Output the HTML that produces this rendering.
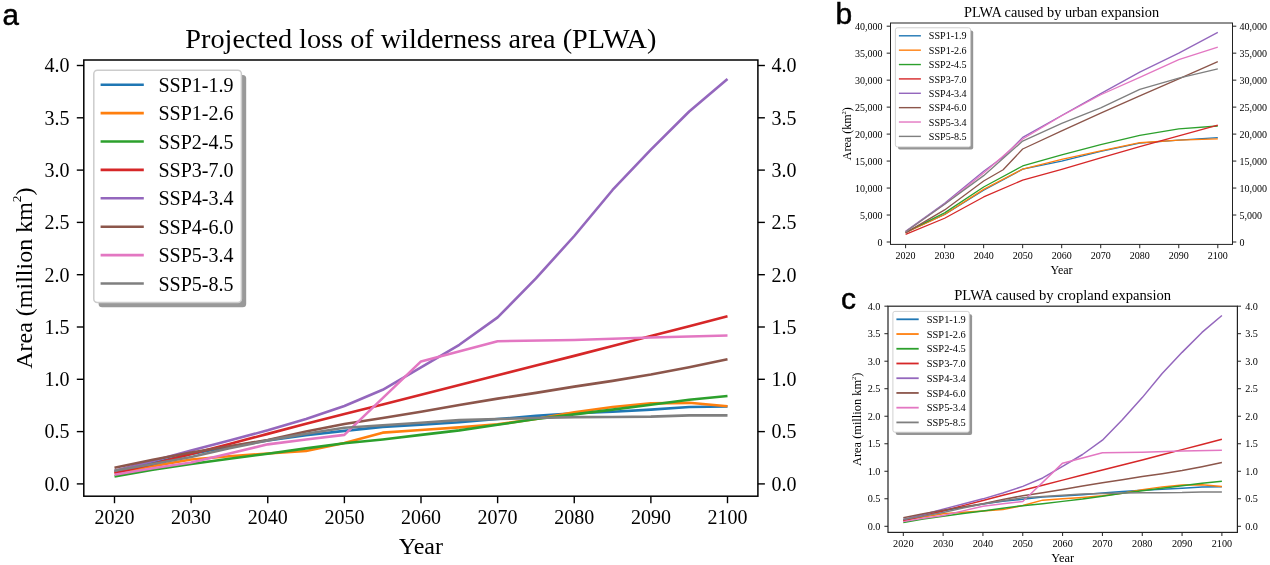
<!DOCTYPE html>
<html><head><meta charset="utf-8"><style>
html,body{margin:0;padding:0;background:#fff;}
svg{display:block;will-change:transform;}
text{font-family:'Liberation Serif',serif;fill:#000;}
</style></head><body>
<svg width="1270" height="565" viewBox="0 0 1270 565">
<rect width="1270" height="565" fill="#fff"/>
<polyline points="114.50,471.87 152.81,462.98 191.12,454.09 229.44,446.77 267.75,440.49 306.06,435.26 344.38,430.87 382.69,426.89 421.00,424.80 459.31,422.19 497.62,419.05 535.94,415.91 574.25,413.29 612.56,411.73 650.88,409.63 689.19,407.02 727.50,406.50" fill="none" stroke="#1f77b4" stroke-width="2.6" stroke-linejoin="round" stroke-linecap="butt"/>
<polyline points="114.50,472.92 152.81,466.12 191.12,459.53 229.44,456.18 267.75,453.57 306.06,450.95 344.38,442.90 382.69,432.65 421.00,430.03 459.31,427.42 497.62,424.28 535.94,419.05 574.25,412.25 612.56,407.02 650.88,403.36 689.19,402.83 727.50,406.29" fill="none" stroke="#ff7f0e" stroke-width="2.6" stroke-linejoin="round" stroke-linecap="butt"/>
<polyline points="114.50,476.58 152.81,469.78 191.12,464.03 229.44,458.80 267.75,453.67 306.06,448.34 344.38,443.21 382.69,439.44 421.00,434.84 459.31,430.34 497.62,424.80 535.94,419.05 574.25,414.34 612.56,409.63 650.88,404.82 689.19,399.80 727.50,395.93" fill="none" stroke="#2ca02c" stroke-width="2.6" stroke-linejoin="round" stroke-linecap="butt"/>
<polyline points="114.50,473.08 152.81,464.06 191.12,454.00 229.44,443.94 267.75,433.87 306.06,423.81 344.38,414.10 382.69,404.40 421.00,394.69 459.31,384.99 497.62,375.28 535.94,365.57 574.25,355.87 612.56,345.98 650.88,336.10 689.19,326.22 727.50,316.33" fill="none" stroke="#d62728" stroke-width="2.6" stroke-linejoin="round" stroke-linecap="butt"/>
<polyline points="114.50,470.82 152.81,460.89 191.12,450.53 229.44,440.49 267.75,430.34 306.06,419.05 344.38,405.97 382.69,389.76 421.00,367.38 459.31,344.78 497.62,317.38 535.94,278.36 574.25,236.00 612.56,189.97 650.88,149.60 689.19,111.52 727.50,79.10" fill="none" stroke="#9467bd" stroke-width="2.6" stroke-linejoin="round" stroke-linecap="butt"/>
<polyline points="114.50,467.69 152.81,459.84 191.12,452.52 229.44,446.24 267.75,439.97 306.06,431.60 344.38,423.96 382.69,418.00 421.00,411.73 459.31,404.93 497.62,398.65 535.94,392.90 574.25,386.62 612.56,380.87 650.88,374.59 689.19,367.27 727.50,359.22" fill="none" stroke="#8c564b" stroke-width="2.6" stroke-linejoin="round" stroke-linecap="butt"/>
<polyline points="114.50,474.80 152.81,468.21 191.12,462.46 229.44,453.57 267.75,444.36 306.06,439.44 344.38,434.84 421.00,361.41 497.62,341.23 574.25,339.97 650.88,337.46 727.50,335.47" fill="none" stroke="#e377c2" stroke-width="2.6" stroke-linejoin="round" stroke-linecap="butt"/>
<polyline points="114.50,470.82 152.81,464.03 191.12,457.02 229.44,448.34 267.75,440.39 306.06,433.69 344.38,427.73 382.69,425.32 421.00,422.71 459.31,420.09 497.62,419.05 535.94,418.00 574.25,417.17 612.56,416.96 650.88,416.64 689.19,415.39 727.50,415.39" fill="none" stroke="#7f7f7f" stroke-width="2.6" stroke-linejoin="round" stroke-linecap="butt"/>
<rect x="83.8" y="60" width="674.1" height="436.2" fill="none" stroke="#000" stroke-width="1.5"/>
<line x1="76.8" y1="483.90" x2="83.8" y2="483.90" stroke="#000" stroke-width="1.4"/>
<line x1="757.9" y1="483.90" x2="764.9" y2="483.90" stroke="#000" stroke-width="1.4"/>
<text x="69.60" y="490.70" font-size="20" text-anchor="end" >0.0</text>
<text x="771.50" y="490.70" font-size="20" text-anchor="start" >0.0</text>
<line x1="76.8" y1="431.60" x2="83.8" y2="431.60" stroke="#000" stroke-width="1.4"/>
<line x1="757.9" y1="431.60" x2="764.9" y2="431.60" stroke="#000" stroke-width="1.4"/>
<text x="69.60" y="438.40" font-size="20" text-anchor="end" >0.5</text>
<text x="771.50" y="438.40" font-size="20" text-anchor="start" >0.5</text>
<line x1="76.8" y1="379.30" x2="83.8" y2="379.30" stroke="#000" stroke-width="1.4"/>
<line x1="757.9" y1="379.30" x2="764.9" y2="379.30" stroke="#000" stroke-width="1.4"/>
<text x="69.60" y="386.10" font-size="20" text-anchor="end" >1.0</text>
<text x="771.50" y="386.10" font-size="20" text-anchor="start" >1.0</text>
<line x1="76.8" y1="327.00" x2="83.8" y2="327.00" stroke="#000" stroke-width="1.4"/>
<line x1="757.9" y1="327.00" x2="764.9" y2="327.00" stroke="#000" stroke-width="1.4"/>
<text x="69.60" y="333.80" font-size="20" text-anchor="end" >1.5</text>
<text x="771.50" y="333.80" font-size="20" text-anchor="start" >1.5</text>
<line x1="76.8" y1="274.70" x2="83.8" y2="274.70" stroke="#000" stroke-width="1.4"/>
<line x1="757.9" y1="274.70" x2="764.9" y2="274.70" stroke="#000" stroke-width="1.4"/>
<text x="69.60" y="281.50" font-size="20" text-anchor="end" >2.0</text>
<text x="771.50" y="281.50" font-size="20" text-anchor="start" >2.0</text>
<line x1="76.8" y1="222.40" x2="83.8" y2="222.40" stroke="#000" stroke-width="1.4"/>
<line x1="757.9" y1="222.40" x2="764.9" y2="222.40" stroke="#000" stroke-width="1.4"/>
<text x="69.60" y="229.20" font-size="20" text-anchor="end" >2.5</text>
<text x="771.50" y="229.20" font-size="20" text-anchor="start" >2.5</text>
<line x1="76.8" y1="170.10" x2="83.8" y2="170.10" stroke="#000" stroke-width="1.4"/>
<line x1="757.9" y1="170.10" x2="764.9" y2="170.10" stroke="#000" stroke-width="1.4"/>
<text x="69.60" y="176.90" font-size="20" text-anchor="end" >3.0</text>
<text x="771.50" y="176.90" font-size="20" text-anchor="start" >3.0</text>
<line x1="76.8" y1="117.80" x2="83.8" y2="117.80" stroke="#000" stroke-width="1.4"/>
<line x1="757.9" y1="117.80" x2="764.9" y2="117.80" stroke="#000" stroke-width="1.4"/>
<text x="69.60" y="124.60" font-size="20" text-anchor="end" >3.5</text>
<text x="771.50" y="124.60" font-size="20" text-anchor="start" >3.5</text>
<line x1="76.8" y1="65.50" x2="83.8" y2="65.50" stroke="#000" stroke-width="1.4"/>
<line x1="757.9" y1="65.50" x2="764.9" y2="65.50" stroke="#000" stroke-width="1.4"/>
<text x="69.60" y="72.30" font-size="20" text-anchor="end" >4.0</text>
<text x="771.50" y="72.30" font-size="20" text-anchor="start" >4.0</text>
<line x1="114.50" y1="496.2" x2="114.50" y2="503.2" stroke="#000" stroke-width="1.4"/>
<text x="114.50" y="523.80" font-size="20" text-anchor="middle" >2020</text>
<line x1="191.12" y1="496.2" x2="191.12" y2="503.2" stroke="#000" stroke-width="1.4"/>
<text x="191.12" y="523.80" font-size="20" text-anchor="middle" >2030</text>
<line x1="267.75" y1="496.2" x2="267.75" y2="503.2" stroke="#000" stroke-width="1.4"/>
<text x="267.75" y="523.80" font-size="20" text-anchor="middle" >2040</text>
<line x1="344.38" y1="496.2" x2="344.38" y2="503.2" stroke="#000" stroke-width="1.4"/>
<text x="344.38" y="523.80" font-size="20" text-anchor="middle" >2050</text>
<line x1="421.00" y1="496.2" x2="421.00" y2="503.2" stroke="#000" stroke-width="1.4"/>
<text x="421.00" y="523.80" font-size="20" text-anchor="middle" >2060</text>
<line x1="497.62" y1="496.2" x2="497.62" y2="503.2" stroke="#000" stroke-width="1.4"/>
<text x="497.62" y="523.80" font-size="20" text-anchor="middle" >2070</text>
<line x1="574.25" y1="496.2" x2="574.25" y2="503.2" stroke="#000" stroke-width="1.4"/>
<text x="574.25" y="523.80" font-size="20" text-anchor="middle" >2080</text>
<line x1="650.88" y1="496.2" x2="650.88" y2="503.2" stroke="#000" stroke-width="1.4"/>
<text x="650.88" y="523.80" font-size="20" text-anchor="middle" >2090</text>
<line x1="727.50" y1="496.2" x2="727.50" y2="503.2" stroke="#000" stroke-width="1.4"/>
<text x="727.50" y="523.80" font-size="20" text-anchor="middle" >2100</text>
<text x="420.85" y="47.80" font-size="28.25" text-anchor="middle" >Projected loss of wilderness area (PLWA)</text>
<text x="420.85" y="553.60" font-size="24" text-anchor="middle" >Year</text>
<text transform="translate(31.5,278.1) rotate(-90)" font-size="24" text-anchor="middle">Area (million km<tspan baseline-shift="11.5" font-size="13.5">2</tspan>)</text>
<rect x="98.60" y="75.00" width="147.6" height="232.2" rx="3.5" fill="#999999"/>
<rect x="93.80" y="70.20" width="147.6" height="232.2" rx="3.5" fill="#fff" stroke="#cccccc" stroke-width="1.5"/>
<line x1="100.6" y1="84.70" x2="143.8" y2="84.70" stroke="#1f77b4" stroke-width="2.6"/>
<text x="158.50" y="91.70" font-size="20" text-anchor="start" >SSP1-1.9</text>
<line x1="100.6" y1="113.10" x2="143.8" y2="113.10" stroke="#ff7f0e" stroke-width="2.6"/>
<text x="158.50" y="120.10" font-size="20" text-anchor="start" >SSP1-2.6</text>
<line x1="100.6" y1="141.50" x2="143.8" y2="141.50" stroke="#2ca02c" stroke-width="2.6"/>
<text x="158.50" y="148.50" font-size="20" text-anchor="start" >SSP2-4.5</text>
<line x1="100.6" y1="169.90" x2="143.8" y2="169.90" stroke="#d62728" stroke-width="2.6"/>
<text x="158.50" y="176.90" font-size="20" text-anchor="start" >SSP3-7.0</text>
<line x1="100.6" y1="198.30" x2="143.8" y2="198.30" stroke="#9467bd" stroke-width="2.6"/>
<text x="158.50" y="205.30" font-size="20" text-anchor="start" >SSP4-3.4</text>
<line x1="100.6" y1="226.70" x2="143.8" y2="226.70" stroke="#8c564b" stroke-width="2.6"/>
<text x="158.50" y="233.70" font-size="20" text-anchor="start" >SSP4-6.0</text>
<line x1="100.6" y1="255.10" x2="143.8" y2="255.10" stroke="#e377c2" stroke-width="2.6"/>
<text x="158.50" y="262.10" font-size="20" text-anchor="start" >SSP5-3.4</text>
<line x1="100.6" y1="283.50" x2="143.8" y2="283.50" stroke="#7f7f7f" stroke-width="2.6"/>
<text x="158.50" y="290.50" font-size="20" text-anchor="start" >SSP5-8.5</text>
<text x="2.4" y="24.6" font-size="29.5" stroke="#000" stroke-width="0.5" style="font-family:'Liberation Sans',sans-serif">a</text>
<polyline points="905.60,232.29 944.62,214.49 983.65,190.21 1022.67,169.17 1061.70,161.02 1100.72,151.31 1139.75,143.22 1178.78,140.03 1217.80,137.61" fill="none" stroke="#1f77b4" stroke-width="1.3" stroke-linejoin="round" stroke-linecap="butt"/>
<polyline points="905.60,232.56 944.62,214.49 983.65,189.40 1022.67,169.17 1061.70,159.40 1100.72,150.82 1139.75,142.73 1178.78,140.03 1217.80,138.96" fill="none" stroke="#ff7f0e" stroke-width="1.3" stroke-linejoin="round" stroke-linecap="butt"/>
<polyline points="905.60,232.29 944.62,212.87 983.65,186.97 1022.67,165.98 1061.70,154.92 1100.72,144.62 1139.75,135.45 1178.78,128.92 1217.80,126.01" fill="none" stroke="#2ca02c" stroke-width="1.3" stroke-linejoin="round" stroke-linecap="butt"/>
<polyline points="905.60,234.45 944.62,218.26 983.65,196.95 1022.67,180.12 1061.70,169.33 1100.72,157.89 1139.75,146.51 1178.78,135.99 1217.80,125.20" fill="none" stroke="#d62728" stroke-width="1.3" stroke-linejoin="round" stroke-linecap="butt"/>
<polyline points="905.60,231.21 944.62,203.21 983.65,171.33 1003.16,156.97 1022.67,137.39 1061.70,115.49 1100.72,93.64 1139.75,72.06 1178.78,53.17 1217.80,32.40" fill="none" stroke="#9467bd" stroke-width="1.3" stroke-linejoin="round" stroke-linecap="butt"/>
<polyline points="905.60,232.83 944.62,209.90 983.65,181.04 1003.16,169.71 1022.67,148.99 1061.70,130.86 1100.72,113.06 1139.75,95.80 1178.78,78.91 1217.80,61.59" fill="none" stroke="#8c564b" stroke-width="1.3" stroke-linejoin="round" stroke-linecap="butt"/>
<polyline points="905.60,231.75 944.62,204.24 983.65,172.94 1022.67,139.01 1061.70,115.76 1100.72,94.72 1139.75,77.29 1178.78,59.60 1217.80,47.19" fill="none" stroke="#e377c2" stroke-width="1.3" stroke-linejoin="round" stroke-linecap="butt"/>
<polyline points="905.60,231.75 944.62,204.24 983.65,175.64 1022.67,141.11 1061.70,123.31 1100.72,107.83 1139.75,89.32 1178.78,78.21 1217.80,68.98" fill="none" stroke="#7f7f7f" stroke-width="1.3" stroke-linejoin="round" stroke-linecap="butt"/>
<rect x="890.5" y="23" width="342.0" height="221.4" fill="none" stroke="#222" stroke-width="1.0"/>
<line x1="886.7" y1="242.00" x2="890.5" y2="242.00" stroke="#222" stroke-width="1.0"/>
<line x1="1232.5" y1="242.00" x2="1236.3" y2="242.00" stroke="#222" stroke-width="1.0"/>
<text x="882.40" y="245.50" font-size="10" text-anchor="end" >0</text>
<text x="1239.50" y="245.50" font-size="10" text-anchor="start" >0</text>
<line x1="886.7" y1="215.03" x2="890.5" y2="215.03" stroke="#222" stroke-width="1.0"/>
<line x1="1232.5" y1="215.03" x2="1236.3" y2="215.03" stroke="#222" stroke-width="1.0"/>
<text x="882.40" y="218.53" font-size="10" text-anchor="end" >5,000</text>
<text x="1239.50" y="218.53" font-size="10" text-anchor="start" >5,000</text>
<line x1="886.7" y1="188.05" x2="890.5" y2="188.05" stroke="#222" stroke-width="1.0"/>
<line x1="1232.5" y1="188.05" x2="1236.3" y2="188.05" stroke="#222" stroke-width="1.0"/>
<text x="882.40" y="191.55" font-size="10" text-anchor="end" >10,000</text>
<text x="1239.50" y="191.55" font-size="10" text-anchor="start" >10,000</text>
<line x1="886.7" y1="161.07" x2="890.5" y2="161.07" stroke="#222" stroke-width="1.0"/>
<line x1="1232.5" y1="161.07" x2="1236.3" y2="161.07" stroke="#222" stroke-width="1.0"/>
<text x="882.40" y="164.57" font-size="10" text-anchor="end" >15,000</text>
<text x="1239.50" y="164.57" font-size="10" text-anchor="start" >15,000</text>
<line x1="886.7" y1="134.10" x2="890.5" y2="134.10" stroke="#222" stroke-width="1.0"/>
<line x1="1232.5" y1="134.10" x2="1236.3" y2="134.10" stroke="#222" stroke-width="1.0"/>
<text x="882.40" y="137.60" font-size="10" text-anchor="end" >20,000</text>
<text x="1239.50" y="137.60" font-size="10" text-anchor="start" >20,000</text>
<line x1="886.7" y1="107.12" x2="890.5" y2="107.12" stroke="#222" stroke-width="1.0"/>
<line x1="1232.5" y1="107.12" x2="1236.3" y2="107.12" stroke="#222" stroke-width="1.0"/>
<text x="882.40" y="110.62" font-size="10" text-anchor="end" >25,000</text>
<text x="1239.50" y="110.62" font-size="10" text-anchor="start" >25,000</text>
<line x1="886.7" y1="80.15" x2="890.5" y2="80.15" stroke="#222" stroke-width="1.0"/>
<line x1="1232.5" y1="80.15" x2="1236.3" y2="80.15" stroke="#222" stroke-width="1.0"/>
<text x="882.40" y="83.65" font-size="10" text-anchor="end" >30,000</text>
<text x="1239.50" y="83.65" font-size="10" text-anchor="start" >30,000</text>
<line x1="886.7" y1="53.17" x2="890.5" y2="53.17" stroke="#222" stroke-width="1.0"/>
<line x1="1232.5" y1="53.17" x2="1236.3" y2="53.17" stroke="#222" stroke-width="1.0"/>
<text x="882.40" y="56.67" font-size="10" text-anchor="end" >35,000</text>
<text x="1239.50" y="56.67" font-size="10" text-anchor="start" >35,000</text>
<line x1="886.7" y1="26.20" x2="890.5" y2="26.20" stroke="#222" stroke-width="1.0"/>
<line x1="1232.5" y1="26.20" x2="1236.3" y2="26.20" stroke="#222" stroke-width="1.0"/>
<text x="882.40" y="29.70" font-size="10" text-anchor="end" >40,000</text>
<text x="1239.50" y="29.70" font-size="10" text-anchor="start" >40,000</text>
<line x1="905.60" y1="244.4" x2="905.60" y2="248.20000000000002" stroke="#222" stroke-width="1.0"/>
<text x="905.60" y="258.80" font-size="10" text-anchor="middle" >2020</text>
<line x1="944.62" y1="244.4" x2="944.62" y2="248.20000000000002" stroke="#222" stroke-width="1.0"/>
<text x="944.62" y="258.80" font-size="10" text-anchor="middle" >2030</text>
<line x1="983.65" y1="244.4" x2="983.65" y2="248.20000000000002" stroke="#222" stroke-width="1.0"/>
<text x="983.65" y="258.80" font-size="10" text-anchor="middle" >2040</text>
<line x1="1022.67" y1="244.4" x2="1022.67" y2="248.20000000000002" stroke="#222" stroke-width="1.0"/>
<text x="1022.67" y="258.80" font-size="10" text-anchor="middle" >2050</text>
<line x1="1061.70" y1="244.4" x2="1061.70" y2="248.20000000000002" stroke="#222" stroke-width="1.0"/>
<text x="1061.70" y="258.80" font-size="10" text-anchor="middle" >2060</text>
<line x1="1100.72" y1="244.4" x2="1100.72" y2="248.20000000000002" stroke="#222" stroke-width="1.0"/>
<text x="1100.72" y="258.80" font-size="10" text-anchor="middle" >2070</text>
<line x1="1139.75" y1="244.4" x2="1139.75" y2="248.20000000000002" stroke="#222" stroke-width="1.0"/>
<text x="1139.75" y="258.80" font-size="10" text-anchor="middle" >2080</text>
<line x1="1178.78" y1="244.4" x2="1178.78" y2="248.20000000000002" stroke="#222" stroke-width="1.0"/>
<text x="1178.78" y="258.80" font-size="10" text-anchor="middle" >2090</text>
<line x1="1217.80" y1="244.4" x2="1217.80" y2="248.20000000000002" stroke="#222" stroke-width="1.0"/>
<text x="1217.80" y="258.80" font-size="10" text-anchor="middle" >2100</text>
<text x="1061.50" y="17.00" font-size="14.3" text-anchor="middle" >PLWA caused by urban expansion</text>
<text x="1061.50" y="273.80" font-size="12" text-anchor="middle" >Year</text>
<text transform="translate(851.2,133.7) rotate(-90)" font-size="12" text-anchor="middle">Area (km<tspan baseline-shift="5" font-size="6.5">2</tspan>)</text>
<rect x="898.00" y="30.40" width="75.2" height="119.1" rx="2" fill="#959595"/>
<rect x="895.40" y="27.80" width="75.2" height="119.1" rx="2" fill="#fff" stroke="#cccccc" stroke-width="0.9"/>
<line x1="898.9" y1="35.80" x2="920.9" y2="35.80" stroke="#1f77b4" stroke-width="1.4"/>
<text x="928.80" y="39.40" font-size="10.1" text-anchor="start" >SSP1-1.9</text>
<line x1="898.9" y1="50.17" x2="920.9" y2="50.17" stroke="#ff7f0e" stroke-width="1.4"/>
<text x="928.80" y="53.77" font-size="10.1" text-anchor="start" >SSP1-2.6</text>
<line x1="898.9" y1="64.54" x2="920.9" y2="64.54" stroke="#2ca02c" stroke-width="1.4"/>
<text x="928.80" y="68.14" font-size="10.1" text-anchor="start" >SSP2-4.5</text>
<line x1="898.9" y1="78.91" x2="920.9" y2="78.91" stroke="#d62728" stroke-width="1.4"/>
<text x="928.80" y="82.51" font-size="10.1" text-anchor="start" >SSP3-7.0</text>
<line x1="898.9" y1="93.28" x2="920.9" y2="93.28" stroke="#9467bd" stroke-width="1.4"/>
<text x="928.80" y="96.88" font-size="10.1" text-anchor="start" >SSP4-3.4</text>
<line x1="898.9" y1="107.65" x2="920.9" y2="107.65" stroke="#8c564b" stroke-width="1.4"/>
<text x="928.80" y="111.25" font-size="10.1" text-anchor="start" >SSP4-6.0</text>
<line x1="898.9" y1="122.02" x2="920.9" y2="122.02" stroke="#e377c2" stroke-width="1.4"/>
<text x="928.80" y="125.62" font-size="10.1" text-anchor="start" >SSP5-3.4</text>
<line x1="898.9" y1="136.39" x2="920.9" y2="136.39" stroke="#7f7f7f" stroke-width="1.4"/>
<text x="928.80" y="139.99" font-size="10.1" text-anchor="start" >SSP5-8.5</text>
<text x="835.5" y="23.7" font-size="30" stroke="#000" stroke-width="0.5" style="font-family:'Liberation Sans',sans-serif">b</text>
<polyline points="903.30,520.07 923.21,515.48 943.12,510.90 963.04,507.17 982.95,503.99 1002.86,501.35 1022.77,499.14 1042.69,497.09 1062.60,496.03 1082.51,494.71 1102.42,493.11 1122.34,491.50 1142.25,490.16 1162.16,489.35 1182.07,488.27 1201.99,486.91 1221.90,486.64" fill="none" stroke="#1f77b4" stroke-width="1.5" stroke-linejoin="round" stroke-linecap="butt"/>
<polyline points="903.30,520.62 923.21,517.13 943.12,513.76 963.04,512.13 982.95,510.88 1002.86,509.61 1022.77,505.47 1042.69,500.13 1062.60,498.80 1082.51,497.47 1102.42,495.86 1122.34,493.15 1142.25,489.62 1162.16,486.88 1182.07,484.97 1201.99,484.70 1221.90,486.52" fill="none" stroke="#ff7f0e" stroke-width="1.5" stroke-linejoin="round" stroke-linecap="butt"/>
<polyline points="903.30,522.55 923.21,519.07 943.12,516.14 963.04,513.52 982.95,510.96 1002.86,508.26 1022.77,505.67 1042.69,503.74 1062.60,501.38 1082.51,499.07 1102.42,496.20 1122.34,493.22 1142.25,490.79 1162.16,488.35 1182.07,485.85 1201.99,483.22 1221.90,481.20" fill="none" stroke="#2ca02c" stroke-width="1.5" stroke-linejoin="round" stroke-linecap="butt"/>
<polyline points="903.30,520.69 923.21,516.02 943.12,510.81 963.04,505.63 982.95,500.44 1002.86,495.23 1022.77,490.21 1042.69,485.16 1062.60,480.11 1082.51,475.06 1102.42,470.01 1122.34,464.97 1142.25,459.92 1162.16,454.77 1182.07,449.62 1201.99,444.48 1221.90,439.33" fill="none" stroke="#d62728" stroke-width="1.5" stroke-linejoin="round" stroke-linecap="butt"/>
<polyline points="903.30,519.53 923.21,514.45 943.12,509.14 963.04,504.02 982.95,498.85 1002.86,493.05 1022.77,486.37 1042.69,477.95 1062.60,466.29 1082.51,454.51 1102.42,440.21 1122.34,419.79 1142.25,397.61 1162.16,373.50 1182.07,352.35 1201.99,332.43 1221.90,315.47" fill="none" stroke="#9467bd" stroke-width="1.5" stroke-linejoin="round" stroke-linecap="butt"/>
<polyline points="903.30,517.86 923.21,513.85 943.12,510.12 963.04,506.96 982.95,503.81 1002.86,499.52 1022.77,495.72 1042.69,492.67 1062.60,489.46 1082.51,485.98 1102.42,482.77 1122.34,479.83 1142.25,476.61 1162.16,473.67 1182.07,470.46 1201.99,466.69 1221.90,462.54" fill="none" stroke="#8c564b" stroke-width="1.5" stroke-linejoin="round" stroke-linecap="butt"/>
<polyline points="903.30,521.62 923.21,518.29 943.12,515.40 963.04,510.89 982.95,506.20 1002.86,503.79 1022.77,501.54 1062.60,463.15 1102.42,452.74 1142.25,452.26 1182.07,451.12 1221.90,450.20" fill="none" stroke="#e377c2" stroke-width="1.5" stroke-linejoin="round" stroke-linecap="butt"/>
<polyline points="903.30,519.53 923.21,516.09 943.12,512.54 963.04,508.12 982.95,504.08 1002.86,500.74 1022.77,497.78 1042.69,496.60 1062.60,495.32 1082.51,494.02 1102.42,493.55 1122.34,493.09 1142.25,492.75 1162.16,492.69 1182.07,492.59 1201.99,491.97 1221.90,492.02" fill="none" stroke="#7f7f7f" stroke-width="1.5" stroke-linejoin="round" stroke-linecap="butt"/>
<rect x="888" y="306.2" width="349.4000000000001" height="226.2" fill="none" stroke="#222" stroke-width="1.2"/>
<line x1="884.4" y1="526.30" x2="888" y2="526.30" stroke="#222" stroke-width="1.0"/>
<line x1="1237.4" y1="526.30" x2="1241.0" y2="526.30" stroke="#222" stroke-width="1.0"/>
<text x="880.40" y="529.80" font-size="10.2" text-anchor="end" >0.0</text>
<text x="1245.20" y="529.80" font-size="10.2" text-anchor="start" >0.0</text>
<line x1="884.4" y1="498.78" x2="888" y2="498.78" stroke="#222" stroke-width="1.0"/>
<line x1="1237.4" y1="498.78" x2="1241.0" y2="498.78" stroke="#222" stroke-width="1.0"/>
<text x="880.40" y="502.28" font-size="10.2" text-anchor="end" >0.5</text>
<text x="1245.20" y="502.28" font-size="10.2" text-anchor="start" >0.5</text>
<line x1="884.4" y1="471.27" x2="888" y2="471.27" stroke="#222" stroke-width="1.0"/>
<line x1="1237.4" y1="471.27" x2="1241.0" y2="471.27" stroke="#222" stroke-width="1.0"/>
<text x="880.40" y="474.77" font-size="10.2" text-anchor="end" >1.0</text>
<text x="1245.20" y="474.77" font-size="10.2" text-anchor="start" >1.0</text>
<line x1="884.4" y1="443.75" x2="888" y2="443.75" stroke="#222" stroke-width="1.0"/>
<line x1="1237.4" y1="443.75" x2="1241.0" y2="443.75" stroke="#222" stroke-width="1.0"/>
<text x="880.40" y="447.25" font-size="10.2" text-anchor="end" >1.5</text>
<text x="1245.20" y="447.25" font-size="10.2" text-anchor="start" >1.5</text>
<line x1="884.4" y1="416.24" x2="888" y2="416.24" stroke="#222" stroke-width="1.0"/>
<line x1="1237.4" y1="416.24" x2="1241.0" y2="416.24" stroke="#222" stroke-width="1.0"/>
<text x="880.40" y="419.74" font-size="10.2" text-anchor="end" >2.0</text>
<text x="1245.20" y="419.74" font-size="10.2" text-anchor="start" >2.0</text>
<line x1="884.4" y1="388.72" x2="888" y2="388.72" stroke="#222" stroke-width="1.0"/>
<line x1="1237.4" y1="388.72" x2="1241.0" y2="388.72" stroke="#222" stroke-width="1.0"/>
<text x="880.40" y="392.22" font-size="10.2" text-anchor="end" >2.5</text>
<text x="1245.20" y="392.22" font-size="10.2" text-anchor="start" >2.5</text>
<line x1="884.4" y1="361.21" x2="888" y2="361.21" stroke="#222" stroke-width="1.0"/>
<line x1="1237.4" y1="361.21" x2="1241.0" y2="361.21" stroke="#222" stroke-width="1.0"/>
<text x="880.40" y="364.71" font-size="10.2" text-anchor="end" >3.0</text>
<text x="1245.20" y="364.71" font-size="10.2" text-anchor="start" >3.0</text>
<line x1="884.4" y1="333.69" x2="888" y2="333.69" stroke="#222" stroke-width="1.0"/>
<line x1="1237.4" y1="333.69" x2="1241.0" y2="333.69" stroke="#222" stroke-width="1.0"/>
<text x="880.40" y="337.19" font-size="10.2" text-anchor="end" >3.5</text>
<text x="1245.20" y="337.19" font-size="10.2" text-anchor="start" >3.5</text>
<line x1="884.4" y1="306.18" x2="888" y2="306.18" stroke="#222" stroke-width="1.0"/>
<line x1="1237.4" y1="306.18" x2="1241.0" y2="306.18" stroke="#222" stroke-width="1.0"/>
<text x="880.40" y="309.68" font-size="10.2" text-anchor="end" >4.0</text>
<text x="1245.20" y="309.68" font-size="10.2" text-anchor="start" >4.0</text>
<line x1="903.30" y1="532.4" x2="903.30" y2="536.0" stroke="#222" stroke-width="1.0"/>
<text x="903.30" y="547.00" font-size="10.2" text-anchor="middle" >2020</text>
<line x1="943.12" y1="532.4" x2="943.12" y2="536.0" stroke="#222" stroke-width="1.0"/>
<text x="943.12" y="547.00" font-size="10.2" text-anchor="middle" >2030</text>
<line x1="982.95" y1="532.4" x2="982.95" y2="536.0" stroke="#222" stroke-width="1.0"/>
<text x="982.95" y="547.00" font-size="10.2" text-anchor="middle" >2040</text>
<line x1="1022.77" y1="532.4" x2="1022.77" y2="536.0" stroke="#222" stroke-width="1.0"/>
<text x="1022.77" y="547.00" font-size="10.2" text-anchor="middle" >2050</text>
<line x1="1062.60" y1="532.4" x2="1062.60" y2="536.0" stroke="#222" stroke-width="1.0"/>
<text x="1062.60" y="547.00" font-size="10.2" text-anchor="middle" >2060</text>
<line x1="1102.42" y1="532.4" x2="1102.42" y2="536.0" stroke="#222" stroke-width="1.0"/>
<text x="1102.42" y="547.00" font-size="10.2" text-anchor="middle" >2070</text>
<line x1="1142.25" y1="532.4" x2="1142.25" y2="536.0" stroke="#222" stroke-width="1.0"/>
<text x="1142.25" y="547.00" font-size="10.2" text-anchor="middle" >2080</text>
<line x1="1182.07" y1="532.4" x2="1182.07" y2="536.0" stroke="#222" stroke-width="1.0"/>
<text x="1182.07" y="547.00" font-size="10.2" text-anchor="middle" >2090</text>
<line x1="1221.90" y1="532.4" x2="1221.90" y2="536.0" stroke="#222" stroke-width="1.0"/>
<text x="1221.90" y="547.00" font-size="10.2" text-anchor="middle" >2100</text>
<text x="1062.70" y="299.80" font-size="14.6" text-anchor="middle" >PLWA caused by cropland expansion</text>
<text x="1062.70" y="561.90" font-size="12.4" text-anchor="middle" >Year</text>
<text transform="translate(861.2,419.29999999999995) rotate(-90)" font-size="12.4" text-anchor="middle">Area (million km<tspan baseline-shift="5" font-size="6.5">2</tspan>)</text>
<rect x="895.70" y="314.20" width="76.4" height="120.8" rx="2" fill="#959595"/>
<rect x="892.90" y="311.40" width="76.4" height="120.8" rx="2" fill="#fff" stroke="#cccccc" stroke-width="0.9"/>
<line x1="896.4" y1="319.30" x2="918.7" y2="319.30" stroke="#1f77b4" stroke-width="1.8"/>
<text x="926.80" y="323.00" font-size="10.4" text-anchor="start" >SSP1-1.9</text>
<line x1="896.4" y1="334.03" x2="918.7" y2="334.03" stroke="#ff7f0e" stroke-width="1.8"/>
<text x="926.80" y="337.73" font-size="10.4" text-anchor="start" >SSP1-2.6</text>
<line x1="896.4" y1="348.76" x2="918.7" y2="348.76" stroke="#2ca02c" stroke-width="1.8"/>
<text x="926.80" y="352.46" font-size="10.4" text-anchor="start" >SSP2-4.5</text>
<line x1="896.4" y1="363.49" x2="918.7" y2="363.49" stroke="#d62728" stroke-width="1.8"/>
<text x="926.80" y="367.19" font-size="10.4" text-anchor="start" >SSP3-7.0</text>
<line x1="896.4" y1="378.22" x2="918.7" y2="378.22" stroke="#9467bd" stroke-width="1.8"/>
<text x="926.80" y="381.92" font-size="10.4" text-anchor="start" >SSP4-3.4</text>
<line x1="896.4" y1="392.95" x2="918.7" y2="392.95" stroke="#8c564b" stroke-width="1.8"/>
<text x="926.80" y="396.65" font-size="10.4" text-anchor="start" >SSP4-6.0</text>
<line x1="896.4" y1="407.68" x2="918.7" y2="407.68" stroke="#e377c2" stroke-width="1.8"/>
<text x="926.80" y="411.38" font-size="10.4" text-anchor="start" >SSP5-3.4</text>
<line x1="896.4" y1="422.41" x2="918.7" y2="422.41" stroke="#7f7f7f" stroke-width="1.8"/>
<text x="926.80" y="426.11" font-size="10.4" text-anchor="start" >SSP5-8.5</text>
<text x="841" y="308.9" font-size="30" stroke="#000" stroke-width="0.5" style="font-family:'Liberation Sans',sans-serif">c</text>
</svg>
</body></html>
